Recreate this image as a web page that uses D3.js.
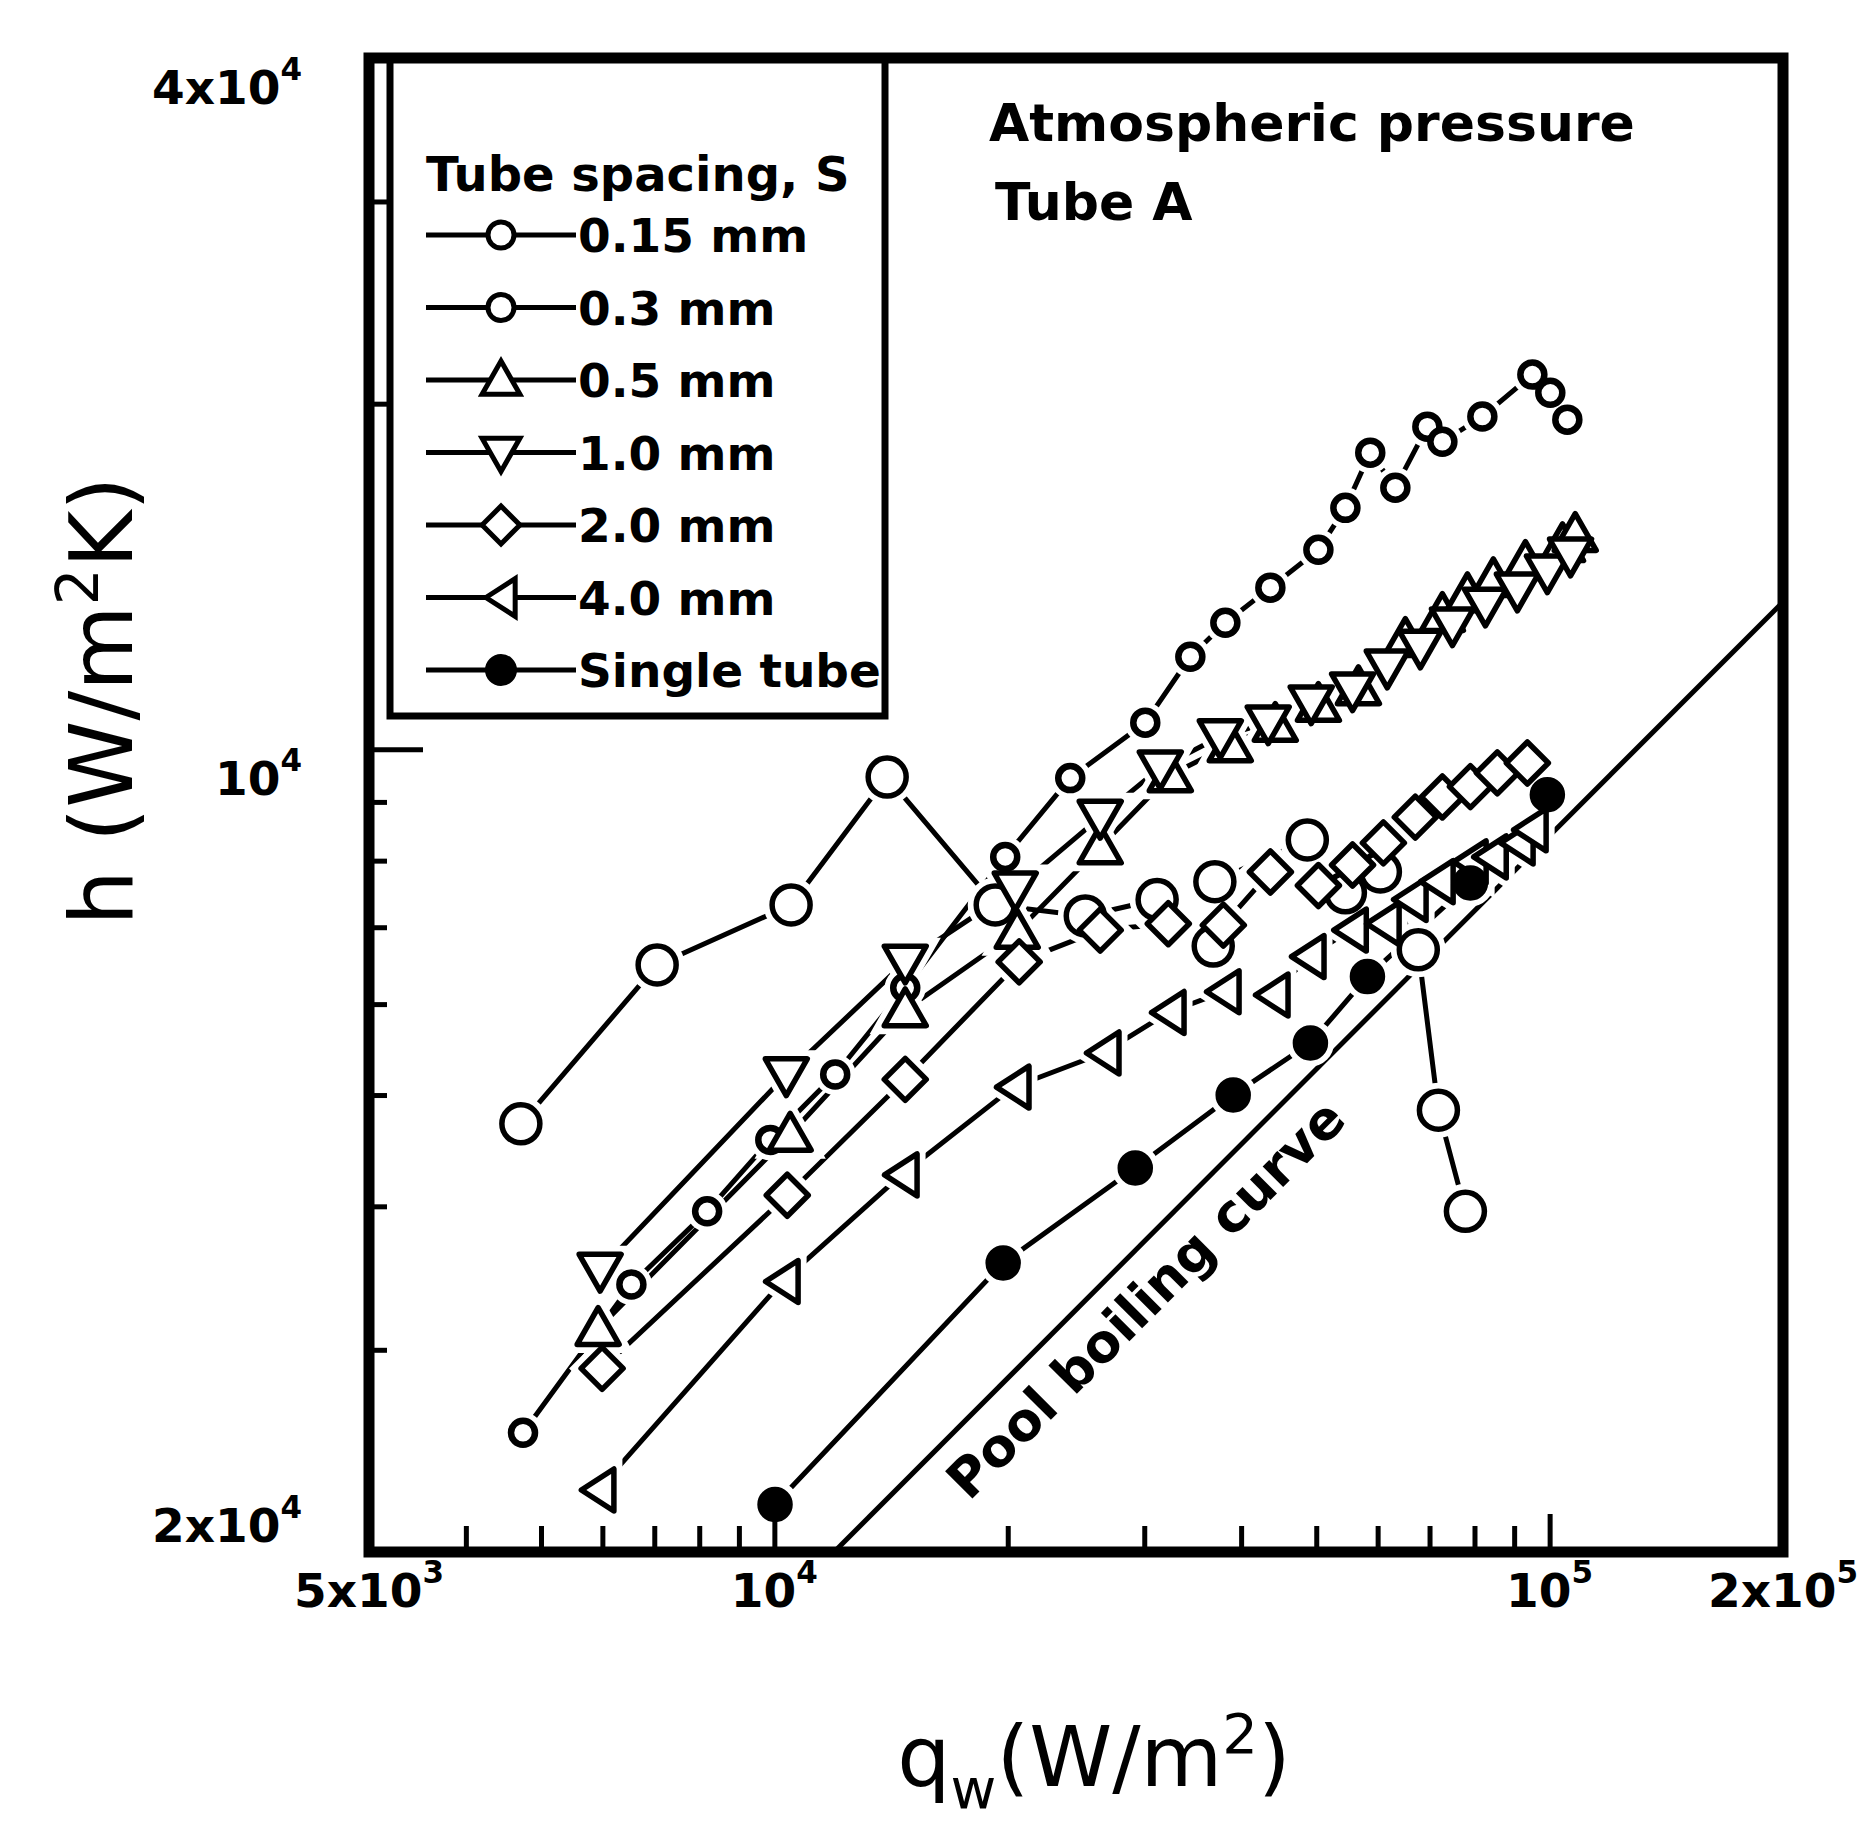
<!DOCTYPE html>
<html>
<head>
<meta charset="utf-8">
<script src="https://cdn.jsdelivr.net/npm/d3@7"></script>
<style>
  body { margin: 0; background: #fff; }
  svg { display: block; }
  text { font-family: "DejaVu Sans", sans-serif; fill: #000; }
</style>
</head>
<body>
<script>
// heat flux q_w (W/m2) and heat transfer coefficient h (W/m2K)
const q015 = [4710, 7060, 10510, 13980, 19270, 25180, 31170, 36820, 37000, 48690, 54520, 60490, 67700, 71870, 77870];
const h015 = [4720, 6490, 7320, 9460, 7320, 7160, 7400, 6740, 7670, 8340, 7500, 7820, 6690, 4850, 3960];

const q03 = [4740, 6540, 8190, 9880, 11980, 14750, 19850, 24080, 30090, 34400, 38170, 43630, 50320, 54520, 58700, 63240, 69550, 72720, 81890, 95000, 100200, 105400];
const h03 = [2540, 3420, 3960, 4570, 5210, 6200, 8060, 9440, 10550, 12040, 12890, 13830, 14920, 16230, 18130, 16900, 19100, 18530, 19490, 21200, 20440, 19370];

const q05 = [5925, 10480, 14750, 20570, 26320, 32410, 38730, 44270, 50320, 56670, 65150, 72720, 78340, 84600, 93060, 103900, 107900];
const h05 = [3130, 4620, 5930, 6940, 8220, 9500, 10090, 10510, 10940, 11310, 12460, 13100, 13630, 14050, 14540, 15070, 15380];

const q10 = [5960, 10360, 14750, 20450, 26320, 31460, 37600, 43350, 49250, 55690, 61740, 68110, 74920, 82630, 90860, 99330, 106400];
const h10 = [3520, 5210, 6530, 7560, 8730, 9640, 10260, 10550, 10980, 11270, 11800, 12280, 12840, 13360, 13770, 14280, 14770];

const q20 = [5995, 10390, 14750, 20690, 26320, 32220, 37940, 43630, 50320, 55690, 61030, 67100, 72720, 79030, 85610, 93600];
const h20 = [2890, 4090, 5160, 6530, 6960, 7050, 7030, 7820, 7610, 7930, 8290, 8730, 9090, 9280, 9540, 9730];

const q40 = [5925, 10240, 14580, 20330, 26560, 32220, 37940, 43880, 48830, 55360, 61030, 66120, 71650, 79030, 83890, 90860, 94440];
const h40 = [2265, 3440, 4260, 5080, 5440, 5900, 6150, 6110, 6600, 6960, 7050, 7400, 7670, 7980, 8060, 8290, 8510];

const qSingle = [10020, 19730, 29210, 39070, 49140, 58210, 79030, 99330];
const hSingle = [2200, 3570, 4320, 5000, 5550, 6340, 7650, 9130];

const qPool = [11940, 200000];
const hPool = [2000, 13440];

const seriesNames = ['0.15 mm', '0.3 mm', '0.5 mm', '1.0 mm', '2.0 mm', '4.0 mm', 'Single tube'];

// tick values and their labels (as printed on the figure)
const xMinor = [4000, 5000, 6000, 7000, 8000, 9000, 20000, 30000, 40000, 50000, 60000, 70000, 80000, 90000];
const xMajor = [10000, 100000];
const xLabelValues = [3000, 10000, 100000, 200000];
const xLabelBase = ['5x10', '10', '10', '2x10'];
const xLabelSup = ['3', '4', '5', '5'];

const yMinor = [3000, 4000, 5000, 6000, 7000, 8000, 9000, 20000, 30000];
const yMajor = [10000];
const yLabelValues = [2000, 10000, 40000];
const yLabelBase = ['2x10', '10', '4x10'];
const yLabelSup = ['4', '4', '4'];

const W = 1869, H = 1825;
const plotLeft = 369, plotRight = 1783, plotTop = 58, plotBottom = 1552;

const svg = d3.select('body').append('svg')
    .attr('width', W)
    .attr('height', H);

const x = d3.scaleLog().domain([3000, 200000]).range([plotLeft, plotRight]);
const y = d3.scaleLog().domain([2000, 40000]).range([plotBottom, plotTop]);

svg.append('clipPath').attr('id', 'plot-clip')
    .append('rect')
    .attr('x', plotLeft).attr('y', plotTop)
    .attr('width', plotRight - plotLeft).attr('height', plotBottom - plotTop);

// marker shapes, centred on 0,0
function markerPath(shape, s) {
    const p = d3.path();
    if (shape === 'circle' || shape === 'dot') {
        p.moveTo(s, 0);
        p.arc(0, 0, s, 0, 2 * Math.PI);
    } else if (shape === 'up') {
        p.moveTo(0, -s); p.lineTo(s, 0.75 * s); p.lineTo(-s, 0.75 * s);
    } else if (shape === 'down') {
        p.moveTo(0, s); p.lineTo(s, -0.75 * s); p.lineTo(-s, -0.75 * s);
    } else if (shape === 'left') {
        p.moveTo(-0.8 * s, 0); p.lineTo(0.75 * s, -s); p.lineTo(0.75 * s, s);
    } else if (shape === 'diamond') {
        p.moveTo(0, -s); p.lineTo(s, 0); p.lineTo(0, s); p.lineTo(-s, 0);
    }
    p.closePath();
    return p.toString();
}

const series = [
    { name: seriesNames[0], q: q015, h: h015, shape: 'circle', size: 19 },
    { name: seriesNames[1], q: q03, h: h03, shape: 'circle', size: 12 },
    { name: seriesNames[2], q: q05, h: h05, shape: 'up', size: 21 },
    { name: seriesNames[3], q: q10, h: h10, shape: 'down', size: 21 },
    { name: seriesNames[4], q: q20, h: h20, shape: 'diamond', size: 21 },
    { name: seriesNames[5], q: q40, h: h40, shape: 'left', size: 21 },
    { name: seriesNames[6], q: qSingle, h: hSingle, shape: 'dot', size: 15 }
];
series.forEach(s => { s.points = s.q.map((v, i) => [v, s.h[i]]); });

const line = d3.line()
    .x(d => x(d[0]))
    .y(d => y(d[1]));

const plot = svg.append('g').attr('clip-path', 'url(#plot-clip)');

// pool boiling curve
plot.append('path')
    .datum(qPool.map((v, i) => [v, hPool[i]]))
    .attr('d', line)
    .attr('fill', 'none')
    .attr('stroke', '#000')
    .attr('stroke-width', 5);

plot.selectAll('.series-line')
    .data(series)
    .join('path')
    .attr('class', 'series-line')
    .attr('d', d => line(d.points))
    .attr('fill', 'none')
    .attr('stroke', '#000')
    .attr('stroke-width', 5)
    .attr('stroke-linejoin', 'round');

// white halo so the lines stop short of the symbols
series.forEach(s => {
    plot.append('g').selectAll('path')
        .data(s.points)
        .join('path')
        .attr('transform', d => `translate(${x(d[0])},${y(d[1])})`)
        .attr('d', markerPath(s.shape, s.size))
        .attr('fill', '#fff')
        .attr('stroke', '#fff')
        .attr('stroke-width', 17);
});

series.forEach(s => {
    plot.append('g').selectAll('path')
        .data(s.points)
        .join('path')
        .attr('transform', d => `translate(${x(d[0])},${y(d[1])})`)
        .attr('d', markerPath(s.shape, s.size))
        .attr('fill', s.shape === 'dot' ? '#000' : '#fff')
        .attr('stroke', '#000')
        .attr('stroke-width', s.shape === 'circle' && s.size < 14 ? 6.5 : 5.5)
        .attr('stroke-linejoin', 'round');
});

// label along the pool boiling line
const slope = Math.log10(hPool[1] / hPool[0]) / Math.log10(qPool[1] / qPool[0]);
const qLab = 27600;
const hLab = hPool[0] * Math.pow(qLab / qPool[0], slope);
const angle = Math.atan2(y(hPool[1]) - y(hPool[0]), x(qPool[1]) - x(qPool[0])) * 180 / Math.PI;
svg.append('text')
    .attr('transform', `translate(${x(qLab)},${y(hLab)}) rotate(${angle})`)
    .attr('y', 60)
    .attr('text-anchor', 'middle')
    .attr('font-size', 53)
    .attr('font-weight', 'bold')
    .text('Pool boiling curve');

// legend
const legend = svg.append('g');
legend.append('rect')
    .attr('x', 390).attr('y', plotTop)
    .attr('width', 495).attr('height', 658)
    .attr('fill', 'none')
    .attr('stroke', '#000')
    .attr('stroke-width', 7);
legend.append('text')
    .attr('x', 426).attr('y', 191)
    .attr('font-size', 48)
    .attr('font-weight', 'bold')
    .text('Tube spacing, S');

const rows = legend.selectAll('.row')
    .data(series)
    .join('g')
    .attr('class', 'row')
    .attr('transform', (d, i) => `translate(0,${235 + i * 72.5})`);
rows.append('line')
    .attr('x1', 426).attr('x2', 576)
    .attr('stroke', '#000')
    .attr('stroke-width', 5);
rows.append('path')
    .attr('transform', 'translate(501,0)')
    .attr('d', d => markerPath(d.shape, d.shape === 'circle' ? 13 : d.size * 0.9))
    .attr('fill', d => d.shape === 'dot' ? '#000' : '#fff')
    .attr('stroke', '#000')
    .attr('stroke-width', 5);
rows.append('text')
    .attr('x', 578).attr('y', 17)
    .attr('font-size', 47)
    .attr('font-weight', 'bold')
    .text(d => d.name);

svg.append('text')
    .attr('x', 989).attr('y', 141)
    .attr('font-size', 52)
    .attr('font-weight', 'bold')
    .text('Atmospheric pressure');
svg.append('text')
    .attr('x', 995).attr('y', 220)
    .attr('font-size', 52)
    .attr('font-weight', 'bold')
    .text('Tube A');

// ticks (inside the frame)
function tickStyle(g) {
    g.select('.domain').remove();
    g.selectAll('.tick line').attr('stroke', '#000').attr('stroke-width', 5);
}
svg.append('g').attr('transform', `translate(0,${plotBottom})`)
    .call(d3.axisBottom(x).tickValues(xMinor).tickSize(-26).tickFormat(''))
    .call(tickStyle);
svg.append('g').attr('transform', `translate(0,${plotBottom})`)
    .call(d3.axisBottom(x).tickValues(xMajor).tickSize(-38).tickFormat(''))
    .call(tickStyle);
svg.append('g').attr('transform', `translate(${plotLeft},0)`)
    .call(d3.axisLeft(y).tickValues(yMinor).tickSize(-18).tickFormat(''))
    .call(tickStyle);
svg.append('g').attr('transform', `translate(${plotLeft},0)`)
    .call(d3.axisLeft(y).tickValues(yMajor).tickSize(-54).tickFormat(''))
    .call(tickStyle);

// frame
svg.append('rect')
    .attr('x', plotLeft).attr('y', plotTop)
    .attr('width', plotRight - plotLeft).attr('height', plotBottom - plotTop)
    .attr('fill', 'none')
    .attr('stroke', '#000')
    .attr('stroke-width', 11);

// tick labels with superscripts
function powerLabel(sel, base, sup, size) {
    sel.append('tspan').text(base);
    sel.append('tspan')
        .attr('dy', -0.52 * size)
        .attr('font-size', size * 0.66)
        .text(sup);
}

xLabelValues.forEach((v, i) => {
    const t = svg.append('text')
        .attr('x', x(v)).attr('y', 1607)
        .attr('text-anchor', 'middle')
        .attr('font-size', 47)
        .attr('font-weight', 'bold');
    powerLabel(t, xLabelBase[i], xLabelSup[i], 47);
});

yLabelValues.forEach((v, i) => {
    const t = svg.append('text')
        .attr('x', 302).attr('y', Math.min(y(v) + 46, plotBottom - 10))
        .attr('text-anchor', 'end')
        .attr('font-size', 47)
        .attr('font-weight', 'bold');
    powerLabel(t, yLabelBase[i], yLabelSup[i], 47);
});

// axis titles
const xt = svg.append('text')
    .attr('x', 1094).attr('y', 1786)
    .attr('text-anchor', 'middle')
    .attr('font-size', 84);
xt.append('tspan').text('q');
xt.append('tspan').attr('dy', 22).attr('font-size', 56).text('w');
xt.append('tspan').attr('dy', -22).text('(W/m');
xt.append('tspan').attr('dy', -33).attr('font-size', 56).text('2');
xt.append('tspan').attr('dy', 33).text(')');

const yt = svg.append('text')
    .attr('transform', 'translate(132,701) rotate(-90)')
    .attr('text-anchor', 'middle')
    .attr('font-size', 88);
yt.append('tspan').text('h (W/m');
yt.append('tspan').attr('dy', -34).attr('font-size', 58).text('2');
yt.append('tspan').attr('dy', 34).text('K)');
</script>
</body>
</html>
